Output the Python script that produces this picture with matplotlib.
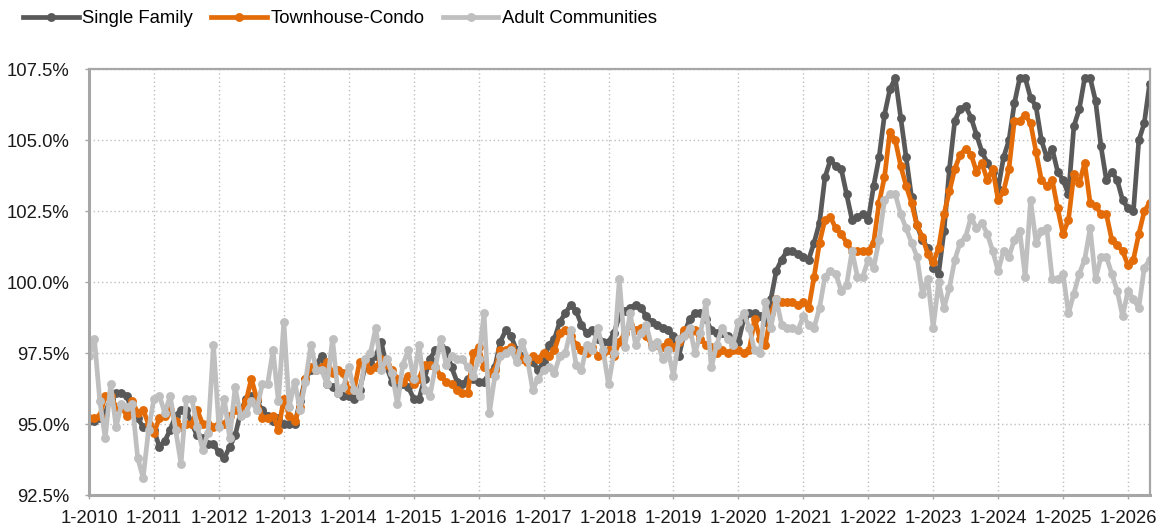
"""
Monthly ratio chart: Single Family, Townhouse-Condo and Adult Communities,
1-2010 .. 5-2026, three lines with dot markers on a percent axis.
"""

import numpy as np
import matplotlib
matplotlib.use("Agg")
import matplotlib.pyplot as plt
from matplotlib.ticker import FixedLocator, FuncFormatter

plt.rcParams['font.family'] = ['Liberation Sans', 'DejaVu Sans']

# Values, percent (one row per year, Jan..Dec)
single_family = [
    95.1, 95.1, 95.2, 95.4, 95.9, 96.1, 96.1, 96.0, 95.4, 95.2, 94.9, 94.9,
    94.8, 94.2, 94.4, 94.8, 95.3, 95.5, 95.5, 95.0, 94.6, 94.5, 94.3, 94.3,
    94.0, 93.8, 94.2, 94.6, 95.4, 95.9, 96.0, 95.8, 95.5, 95.3, 95.1, 95.2,
    95.0, 95.0, 95.0, 95.8, 96.6, 96.9, 97.1, 97.4, 96.4, 96.3, 96.1, 96.0,
    96.0, 95.9, 96.2, 97.0, 97.2, 97.4, 97.9, 97.0, 96.5, 96.3, 96.4, 96.3,
    95.9, 95.9, 96.6, 97.3, 97.6, 97.7, 97.6, 97.0, 96.5, 96.4, 96.6, 96.6,
    96.5, 96.5, 96.8, 97.0, 97.9, 98.3, 98.1, 97.6, 97.4, 97.3, 97.2, 96.9,
    97.2, 97.8, 98.0, 98.6, 98.9, 99.2, 99.0, 98.5, 98.2, 98.3, 98.0, 97.9,
    97.9, 98.2, 98.8, 99.0, 99.1, 99.2, 99.1, 98.8, 98.6, 98.5, 98.4, 98.3,
    98.1, 97.4, 98.2, 98.7, 98.9, 98.9, 98.7, 98.3, 98.2, 98.2, 98.1, 97.9,
    97.9, 98.7, 98.9, 98.9, 98.8, 98.6, 99.4, 100.4, 100.8, 101.1, 101.1, 101.0,
    100.9, 100.8, 101.4, 102.1, 103.7, 104.3, 104.1, 104.0, 103.1, 102.2, 102.3, 102.4,
    102.2, 103.4, 104.4, 105.9, 106.8, 107.2, 105.8, 104.4, 103.0, 102.0, 101.5, 101.2,
    100.5, 100.3, 101.8, 104.0, 105.7, 106.1, 106.2, 105.8, 105.2, 104.6, 104.2, 103.9,
    103.3, 104.4, 105.0, 106.3, 107.2, 107.2, 106.5, 106.2, 105.0, 104.4, 104.7, 103.9,
    103.6, 103.1, 105.5, 106.1, 107.2, 107.2, 106.4, 104.8, 103.6, 103.9, 103.6, 102.9,
    102.6, 102.5, 105.0, 105.6, 107.0,
]

townhouse_condo = [
    95.2, 95.2, 95.3, 96.0, 96.0, 95.6, 95.6, 95.3, 95.8, 95.4, 95.5, 95.0,
    94.7, 95.2, 95.3, 95.5, 95.1, 94.9, 95.0, 95.0, 95.5, 95.0, 95.0, 94.9,
    95.0, 95.0, 95.3, 95.5, 95.4, 95.8, 96.6, 95.9, 95.2, 95.2, 95.3, 94.8,
    95.9, 95.3, 95.1, 95.6, 96.6, 97.0, 96.9, 97.0, 97.2, 96.8, 96.9, 96.8,
    96.2, 96.2, 97.2, 97.2, 96.9, 97.0, 97.3, 97.1, 96.9, 96.6, 96.5, 96.7,
    96.4, 96.6, 97.1, 97.1, 97.0, 96.7, 96.5, 96.4, 96.2, 96.1, 96.1, 97.5,
    97.7, 97.0, 96.8, 96.9, 97.6, 97.6, 97.7, 97.5, 97.3, 97.2, 97.4, 97.3,
    97.5, 97.4, 97.6, 98.2, 98.3, 98.1, 97.8, 97.6, 97.5, 97.7, 97.4, 97.5,
    97.6, 97.4, 97.9, 98.2, 98.5, 98.3, 98.4, 98.1, 97.8, 97.8, 97.7, 97.9,
    97.7, 97.9, 98.3, 98.2, 98.3, 98.0, 97.8, 97.7, 97.5, 97.6, 97.5, 97.6,
    97.6, 97.5, 97.6, 98.7, 98.0, 97.8, 98.9, 99.4, 99.3, 99.3, 99.3, 99.2,
    99.3, 99.1, 100.2, 101.4, 102.2, 102.3, 101.9, 101.7, 101.4, 101.1, 101.1, 101.1,
    101.1, 101.4, 102.8, 103.7, 105.3, 105.0, 104.1, 103.4, 102.8, 102.0, 101.6, 101.0,
    100.7, 101.2, 102.4, 103.2, 104.0, 104.5, 104.7, 104.5, 103.9, 104.2, 103.6, 104.0,
    102.9, 103.2, 104.0, 105.7, 105.7, 105.9, 105.6, 104.6, 103.6, 103.4, 103.6, 102.6,
    101.7, 102.2, 103.8, 103.5, 104.2, 102.8, 102.7, 102.4, 102.4, 101.5, 101.3, 101.1,
    100.6, 100.8, 101.7, 102.5, 102.8,
]

adult_communities = [
    97.4, 98.0, 95.8, 94.5, 96.4, 94.9, 95.7, 95.6, 95.7, 93.8, 93.1, 94.8,
    95.9, 96.0, 95.4, 96.0, 94.8, 93.6, 95.9, 95.9, 94.9, 94.1, 94.7, 97.8,
    94.9, 95.9, 94.5, 96.3, 95.3, 95.4, 95.8, 95.5, 96.4, 96.4, 97.6, 95.8,
    98.6, 95.6, 96.5, 95.5, 96.5, 97.8, 96.9, 96.9, 96.4, 98.0, 96.1, 96.3,
    97.0, 96.2, 96.0, 97.3, 97.5, 98.4, 96.9, 97.3, 96.8, 95.7, 97.1, 97.6,
    96.6, 97.8, 96.2, 96.0, 97.0, 98.0, 97.1, 97.4, 97.3, 97.3, 97.0, 96.7,
    97.3, 98.9, 95.4, 96.7, 97.4, 97.5, 97.6, 97.2, 97.9, 97.3, 96.2, 96.6,
    96.9, 97.0, 96.8, 97.4, 97.5, 98.3, 97.1, 96.9, 97.8, 97.6, 98.4, 97.6,
    96.4, 97.5, 100.1, 97.7, 98.9, 97.8, 98.2, 98.5, 97.7, 97.9, 97.3, 97.6,
    96.7, 98.0, 98.1, 98.4, 97.5, 98.2, 99.3, 97.0, 97.8, 98.4, 98.0, 97.8,
    98.6, 98.9, 98.4, 97.6, 97.5, 99.3, 98.4, 99.4, 98.5, 98.4, 98.4, 98.3,
    98.8, 98.5, 98.4, 99.1, 100.2, 100.4, 100.3, 99.7, 99.9, 101.1, 100.2, 100.2,
    100.8, 100.5, 101.5, 102.9, 103.1, 103.1, 102.4, 101.9, 101.4, 100.9, 99.6, 100.1,
    98.4, 100.0, 99.1, 99.8, 100.8, 101.4, 101.6, 102.3, 101.9, 102.1, 101.7, 101.1,
    100.4, 101.1, 100.9, 101.5, 101.8, 100.2, 102.9, 101.4, 101.8, 101.9, 100.1, 100.1,
    100.3, 98.9, 99.6, 100.3, 100.8, 101.9, 100.1, 100.9, 100.9, 100.3, 99.7, 98.8,
    99.7, 99.4, 99.1, 100.5, 100.8,
]

# Tick labels: every January
year_labels = ['1-%d' % y for y in range(2010, 2027)]
y_ticks = [92.5, 95.0, 97.5, 100.0, 102.5, 105.0, 107.5]

series = [
    ('Single Family', single_family, '#595959'),
    ('Townhouse-Condo', townhouse_condo, '#E36C09'),
    ('Adult Communities', adult_communities, '#BFBFBF'),
]

n_months = len(single_family)
x = np.arange(n_months)

fig, ax = plt.subplots(figsize=(11.56, 5.30), dpi=100)
fig.subplots_adjust(left=0.077, right=0.9945, bottom=0.066, top=0.869)

for name, values, color in series:
    ax.plot(x, values, color=color, linewidth=3.4, marker='o', markersize=6.4,
            markeredgewidth=0, label=name, solid_joinstyle='round')

# Axes
ax.set_xlim(0, n_months - 1)
ax.set_ylim(92.5, 107.5)
ax.xaxis.set_major_locator(FixedLocator(np.arange(0, n_months, 12)))
ax.set_xticklabels(year_labels)
ax.yaxis.set_major_locator(FixedLocator(y_ticks))
ax.yaxis.set_major_formatter(FuncFormatter(lambda v, p: '%.1f%%' % v))

ax.tick_params(axis='both', labelsize=13.3, colors='#A6A6A6', labelcolor='#1a1a1a',
               length=3, width=1)
ax.tick_params(axis='x', pad=8)
ax.tick_params(axis='y', pad=11)

for side in ['left', 'bottom']:
    ax.spines[side].set_color('#A6A6A6')
    ax.spines[side].set_linewidth(2.2)
for side in ['top', 'right']:
    ax.spines[side].set_color('#A6A6A6')
    ax.spines[side].set_linewidth(1.6)

# Grid
ax.grid(True, linestyle=(0, (1, 2)), color='#BFBFBF', linewidth=1.0)
ax.set_axisbelow(True)

# Legend above the plot
ax.legend(loc='center left', bbox_to_anchor=(0.012, 0.965), bbox_transform=fig.transFigure,
          ncol=3, frameon=False, fontsize=13.3, borderpad=0, handlelength=3.0,
          handletextpad=0.2, columnspacing=1.0)

fig.savefig('out.png', dpi=100)
